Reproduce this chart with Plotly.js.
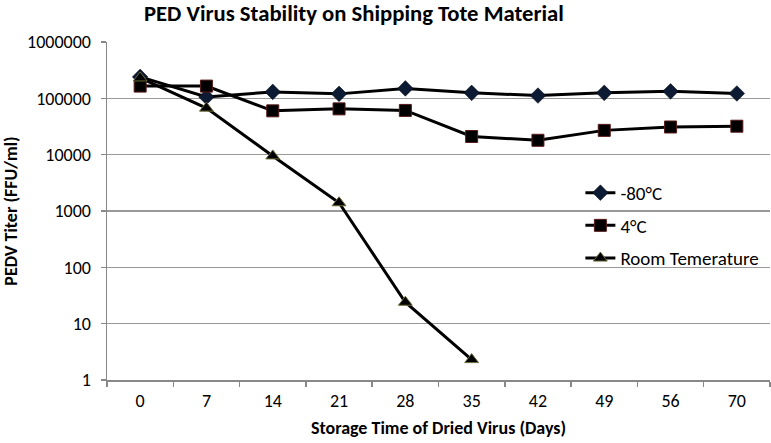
<!DOCTYPE html>
<html><head><meta charset="utf-8">
<script src="https://cdn.plot.ly/plotly-3.0.1.min.js"></script>
<style>body{margin:0;padding:0;background:#fff}#chart{width:771px;height:443px}</style>
</head><body><div id="chart"></div>
<script>
const days = ["0","7","14","21","28","35","42","49","56","70"];
const minus80 = [240000,106000,130000,120000,150000,125000,112000,125000,133000,122000];
const plus4 = [165000,165000,60000,65000,61000,21000,18000,27000,31000,32000];
const roomDays = ["0","7","14","21","28","35"];
const room = [230000,67000,9500,1400,24,2.3];
const yTickVals = [1,10,100,1000,10000,100000,1000000];
const yTickText = ["1","10","100","1000","10000","100000","1000000"];
const font = "Carlito, 'Open Sans', sans-serif";

const traces = [
  {x: days, y: minus80, name: "-80°C", legendgroup: "a", mode: "lines+markers", type: "scatter",
   line: {color: "#000", width: 3}, marker: {symbol: "diamond", size: 12, color: "#0d1a33", line: {color: "#000", width: 0.5}}},
  {x: days, y: plus4, name: "4°C", legendgroup: "b", mode: "lines+markers", type: "scatter",
   line: {color: "#000", width: 3}, marker: {symbol: "square", size: 12, color: "#000", line: {color: "#5a1a1a", width: 1}}},
  {x: roomDays, y: room, name: "Room Temerature", legendgroup: "c", mode: "lines+markers", type: "scatter",
   line: {color: "#000", width: 3}, marker: {symbol: "triangle-up", size: 12, color: "#000", line: {color: "#6b6b3a", width: 1}}}
];

const layout = {
  width: 771, height: 443,
  margin: {l: 107, r: 1, t: 42, b: 63},
  paper_bgcolor: "#fff", plot_bgcolor: "#fff",
  font: {family: font, color: "#000", size: 18},
  title: {text: "<b>PED Virus Stability on Shipping Tote Material</b>", x: 0.459, xanchor: "center", y: 0.97, yanchor: "middle",
          font: {family: font, size: 22.7, color: "#000"}},
  xaxis: {type: "category", categoryorder: "array", categoryarray: days,
          title: {text: "<b>Storage Time of Dried Virus (Days)</b>", font: {size: 18}, standoff: 10},
          showline: true, linecolor: "#888", linewidth: 1.5, showgrid: false,
          ticks: "outside", tickson: "boundaries", ticklen: 5, tickcolor: "#888", tickwidth: 1.5,
          tickfont: {size: 18}, ticklabelstandoff: 4, zeroline: false, range: [-0.5, 9.5]},
  yaxis: {type: "log", range: [0, 6], tickvals: yTickVals, ticktext: yTickText,
          title: {text: "<b>PEDV Titer (FFU/ml)</b>", font: {size: 18}, standoff: 8},
          showline: true, linecolor: "#888", linewidth: 1.5, showgrid: true, gridcolor: "#999", gridwidth: 1.5,
          ticks: "outside", ticklen: 5, tickcolor: "#888", tickwidth: 1.5, ticklabelstandoff: 6,
          tickfont: {size: 18}, zeroline: false},
  legend: {x: 0.714, y: 0.61, xanchor: "left", yanchor: "top", bgcolor: "rgba(0,0,0,0)",
           font: {size: 19}, tracegroupgap: 5, itemwidth: 30, traceorder: "grouped"},
  showlegend: true
};
Plotly.newPlot("chart", traces, layout, {displayModeBar: false, staticPlot: true});
</script></body></html>
